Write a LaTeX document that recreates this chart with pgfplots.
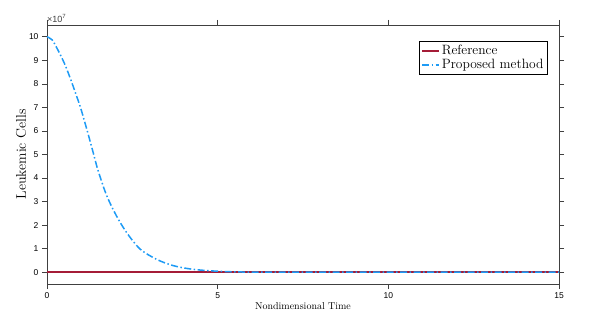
\documentclass[border=0pt]{standalone}
\usepackage{pgfplots}
\pgfplotsset{compat=1.18}
\usepackage{fontspec}
\newfontfamily\ticksf{Liberation Sans}
\definecolor{refred}{RGB}{165,28,55}
\definecolor{propblue}{RGB}{30,155,245}
\begin{document}
\begin{tikzpicture}
\path[use as bounding box] (-47pt,-37pt) rectangle (542pt,284pt);
\begin{axis}[
    name=ax,
    at={(0pt,0pt)}, anchor=south west,
    scale only axis,
    width=512pt, height=259pt,
    xmin=0, xmax=15, ymin=-0.5, ymax=10.5,
    xtick={0,5,10,15}, ytick={0,1,...,10},
    tick align=outside, tick pos=both,
    major tick length=5pt,
    axis line style={black!75, line width=0.6pt},
    every tick/.style={black!75, line width=0.6pt},
    tick label style={font=\ticksf\fontsize{8.5}{9}\selectfont},
    /pgf/number format/assume math mode=true,
    xlabel={Nondimensional Time},
    ylabel={Leukemic Cells},
    xlabel style={font=\fontsize{10}{12}\selectfont, yshift=3pt},
    ylabel style={font=\fontsize{14}{16}\selectfont, yshift=-4pt},
    legend style={at={(0.978,0.938)}, anchor=north east, draw=black,
        line width=0.6pt, font=\fontsize{13.5}{15}\selectfont,
        inner sep=2pt, row sep=-1pt},
    legend cell align=left,
    legend image code/.code={\draw[#1] (0pt,0pt) -- (17pt,0pt);},
]
\addplot[refred, line width=1.5pt] coordinates {(0,0) (15,0)};
\addlegendentry{Reference}
\addplot[propblue, line width=1.5pt, smooth,
    dash pattern=on 7pt off 2.5pt on 1.5pt off 2.5pt] coordinates {
    (0,10) (0.15,9.87) (0.29,9.52) (0.42,9.15) (0.54,8.77) (0.66,8.32)
    (0.78,7.84) (0.98,7.0) (1.17,6.05) (1.35,5.1) (1.5,4.3) (1.75,3.25)
    (2.04,2.38) (2.34,1.67) (2.73,0.98) (3.22,0.54) (3.7,0.28) (4.19,0.14)
    (4.68,0.07) (5.2,0.03) (5.6,0.012) (6.2,0.004) (7,0.001) (8,0)
    (10,0) (12,0) (15,0)};
\addlegendentry{Proposed method}
\end{axis}
\node[anchor=south west, inner sep=0pt, text=black!75,
    font=\ticksf\fontsize{9}{10}\selectfont]
    at ([yshift=2pt]ax.north west) {×10\textsuperscript{7}};
\end{tikzpicture}
\end{document}
